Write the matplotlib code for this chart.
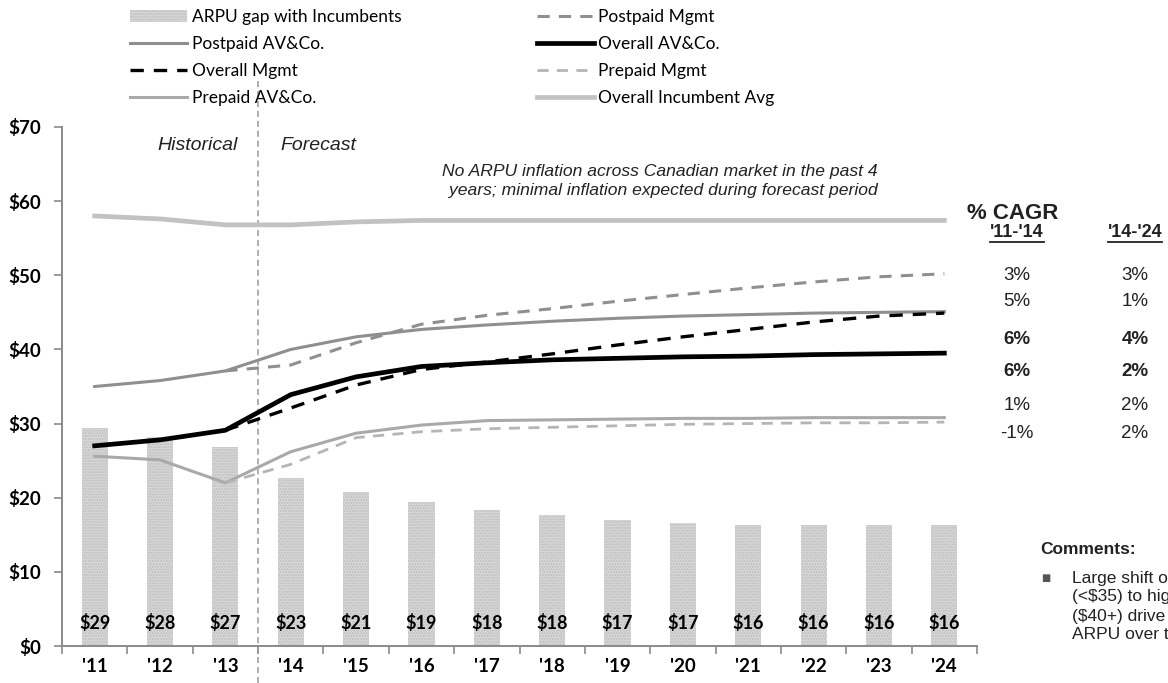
import matplotlib
matplotlib.use("Agg")
import matplotlib.pyplot as plt
from matplotlib.lines import Line2D
from matplotlib.patches import Patch

# ---- data -------------------------------------------------------------
years = ["'11", "'12", "'13", "'14", "'15", "'16", "'17",
         "'18", "'19", "'20", "'21", "'22", "'23", "'24"]

arpu_gap = [29.4, 28.2, 26.9, 22.7, 20.8, 19.4, 18.4,
            17.7, 17.0, 16.6, 16.3, 16.3, 16.3, 16.3]

incumbent_avg = [58.0, 57.6, 56.8, 56.8, 57.2, 57.4, 57.4,
                 57.4, 57.4, 57.4, 57.4, 57.4, 57.4, 57.4]
postpaid_av = [35.0, 35.8, 37.1, 40.0, 41.7, 42.7, 43.3,
               43.8, 44.2, 44.5, 44.7, 44.9, 45.0, 45.1]
overall_av = [27.0, 27.8, 29.1, 33.9, 36.3, 37.7, 38.2,
              38.6, 38.8, 39.0, 39.1, 39.3, 39.4, 39.5]
prepaid_av = [25.6, 25.1, 22.0, 26.2, 28.7, 29.8, 30.4,
              30.5, 30.6, 30.7, 30.7, 30.8, 30.8, 30.8]

# management cases start from the last historical year ('13)
mgmt_years = years[2:]
postpaid_mgmt = [37.1, 37.9, 40.9, 43.4, 44.6, 45.5, 46.5,
                 47.4, 48.3, 49.1, 49.8, 50.2]
overall_mgmt = [29.1, 32.1, 35.2, 37.3, 38.3, 39.4, 40.6,
                41.7, 42.7, 43.7, 44.5, 44.9]
prepaid_mgmt = [22.0, 24.5, 28.1, 28.9, 29.3, 29.5, 29.7,
                29.9, 30.0, 30.1, 30.1, 30.2]

y_ticks = [0, 10, 20, 30, 40, 50, 60, 70]

cagr_headers = ["'11-'14", "'14-'24"]
cagr_first = ["3%", "5%", "6%", "6%", "1%", "-1%"]
cagr_second = ["3%", "1%", "4%", "2%", "2%", "2%"]
cagr_bold = [False, False, True, True, False, False]

comment_lines = ["Large shift of subscribers from low ARPU plans",
                 "(<$35) to higher ARPU plans",
                 "($40+) drive growth in overall",
                 "ARPU over the forecast period"]

# ---- figure -------------------------------------------------------------
W, H = 1168, 683
fig = plt.figure(figsize=(W / 100, H / 100), dpi=100)


def fx(px):
    return px / W


def fy(py):
    return 1 - py / H


ax_left, ax_right, ax_top, ax_bottom = 62, 977, 127, 646
ax = fig.add_axes([fx(ax_left), fy(ax_bottom),
                   (ax_right - ax_left) / W, (ax_bottom - ax_top) / H])

label_font = "Lato"
body_font = "Liberation Sans"
axis_grey = "#8a8a8a"
text_col = "#222222"

x = list(range(len(years)))
xm = [years.index(y) for y in mgmt_years]

# bars
ax.bar(x, arpu_gap, width=0.4, color="#d8d8d8", edgecolor="#bdbdbd",
       hatch="......", linewidth=0, zorder=1)
for xi, v in zip(x, arpu_gap):
    ax.text(xi, 3.1, f"${round(v)}", ha="center", va="center",
            fontsize=13, fontweight="bold", family=label_font,
            color="black", zorder=5)

# lines
ax.plot(x, incumbent_avg, color="#c2c2c2", lw=3.4, zorder=3)
ax.plot(x, postpaid_av, color="#8f8f8f", lw=2.2, zorder=3)
ax.plot(xm, postpaid_mgmt, color="#8f8f8f", lw=2.2, ls=(0, (4, 3)), zorder=3)
ax.plot(x, prepaid_av, color="#a9a9a9", lw=2.2, zorder=3)
ax.plot(xm, prepaid_mgmt, color="#b5b5b5", lw=2.0, ls=(0, (4, 3)), zorder=3)
ax.plot(x, overall_av, color="black", lw=3.4, zorder=4)
ax.plot(xm, overall_mgmt, color="black", lw=2.4, ls=(0, (4, 3)), zorder=4)

# historical / forecast divider
ax.plot([2.5, 2.5], [-5.0, 76.5], color="#9a9a9a", lw=1.1,
        ls=(0, (4, 2.5)), clip_on=False, zorder=2)

ax.set_xlim(-0.5, len(years) - 0.5)
ax.set_ylim(0, 70)

ax.set_yticks(y_ticks)
ax.set_yticklabels([f"${v}" for v in y_ticks], fontsize=13.5,
                   fontweight="bold", family=label_font)
ax.set_xticks(x)
ax.set_xticklabels(years, fontsize=13.5, fontweight="bold", family=label_font)
ax.set_xticks([i - 0.5 for i in range(len(years) + 1)], minor=True)
ax.tick_params(axis="x", which="major", length=0, pad=9)
ax.tick_params(axis="x", which="minor", length=6, width=1.2,
               color=axis_grey, direction="out")
ax.tick_params(axis="y", length=6, width=1.2, color=axis_grey, pad=9)

for side in ("top", "right"):
    ax.spines[side].set_visible(False)
for side in ("left", "bottom"):
    ax.spines[side].set_color(axis_grey)
    ax.spines[side].set_linewidth(1.4)

# annotations inside the plot
fig.text(fx(198), fy(145), "Historical", ha="center", va="center",
         fontsize=14, style="italic", family=body_font, color=text_col)
fig.text(fx(318), fy(145), "Forecast", ha="center", va="center",
         fontsize=14, style="italic", family=body_font, color=text_col)
fig.text(fx(878), fy(181),
         "No ARPU inflation across Canadian market in the past 4\n"
         "years; minimal inflation expected during forecast period",
         ha="right", va="center", fontsize=12.6, style="italic",
         family=body_font, color=text_col, linespacing=1.3)

# legend
handles = [
    Patch(facecolor="#d8d8d8", edgecolor="#bdbdbd", hatch="......", lw=0),
    Line2D([], [], color="#8f8f8f", lw=2.2),
    Line2D([], [], color="black", lw=2.4, ls=(0, (4, 3))),
    Line2D([], [], color="#a9a9a9", lw=2.2),
    Line2D([], [], color="#8f8f8f", lw=2.2, ls=(0, (4, 3))),
    Line2D([], [], color="black", lw=3.4),
    Line2D([], [], color="#b5b5b5", lw=2.0, ls=(0, (4, 3))),
    Line2D([], [], color="#c2c2c2", lw=3.4),
]
labels = ["ARPU gap with Incumbents", "Postpaid AV&Co.", "Overall Mgmt",
          "Prepaid AV&Co.", "Postpaid Mgmt", "Overall AV&Co.",
          "Prepaid Mgmt", "Overall Incumbent Avg"]
fig.legend(handles, labels, ncol=2, loc="upper left",
           bbox_to_anchor=(fx(130), fy(9)), frameon=False,
           prop={"family": label_font, "size": 12.5},
           handlelength=3.3, handletextpad=0.25, columnspacing=7.8,
           labelspacing=0.63, borderpad=0, borderaxespad=0)

# CAGR table
fig.text(fx(1013), fy(214), "% CAGR", ha="center", va="center",
         fontsize=16, fontweight="bold", family=body_font, color=text_col)
col_x = [1017, 1135]
for cx, head in zip(col_x, cagr_headers):
    t = fig.text(fx(cx), fy(233), head, ha="center", va="center",
                 fontsize=13, fontweight="bold", family=body_font,
                 color=text_col)
    fig.canvas.draw()
    bb = t.get_window_extent()
    fig.add_artist(Line2D([bb.x0 / W, bb.x1 / W],
                          [bb.y0 / H - 0.001, bb.y0 / H - 0.001],
                          color=text_col, lw=1.3))
row_y = [275, 302, 340, 371, 405, 433]
for ry, a, b, bold in zip(row_y, cagr_first, cagr_second, cagr_bold):
    w = "bold" if bold else "normal"
    fig.text(fx(col_x[0]), fy(ry), a, ha="center", va="center",
             fontsize=13.5, fontweight=w, family=body_font, color=text_col)
    fig.text(fx(col_x[1]), fy(ry), b, ha="center", va="center",
             fontsize=13.5, fontweight=w, family=body_font, color=text_col)

# comments
fig.text(fx(1040), fy(550), "Comments:", ha="left", va="center",
         fontsize=12.5, fontweight="bold", family=body_font, color=text_col)
fig.text(fx(1046), fy(578), "\u25A0", ha="center", va="center",
         fontsize=7, family=["DejaVu Sans"], color="#555555")
for i, line in enumerate(comment_lines):
    fig.text(fx(1072), fy(578 + 19 * i), line, ha="left", va="center",
             fontsize=12.5, family=body_font, color=text_col)

fig.savefig("out.png", dpi=100)
